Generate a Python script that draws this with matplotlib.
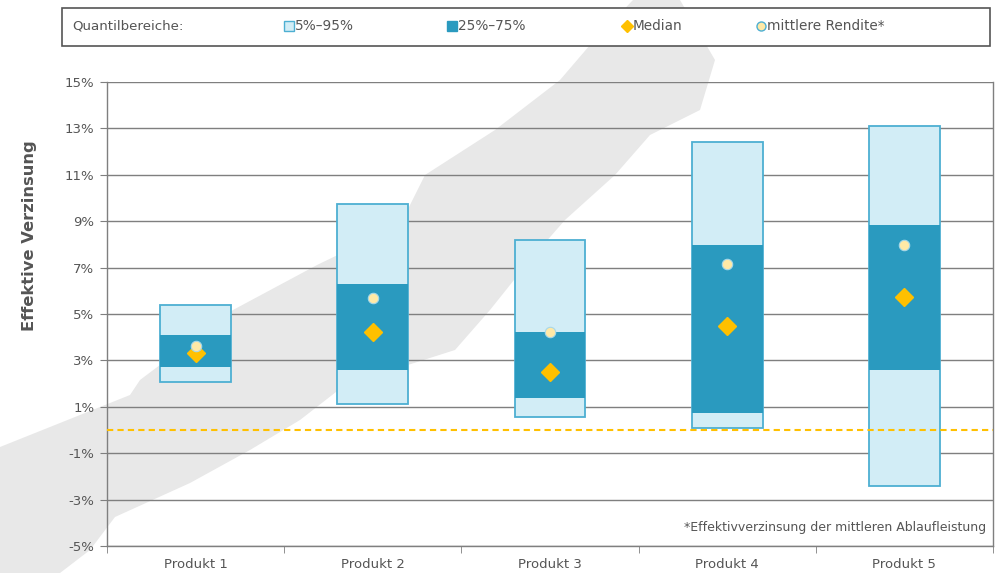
import matplotlib
matplotlib.use("Agg")
import matplotlib.pyplot as plt
from matplotlib.patches import Polygon, Rectangle
from matplotlib.lines import Line2D

products = ["Produkt 1", "Produkt 2", "Produkt 3", "Produkt 4", "Produkt 5"]
q05 = [2.07, 1.12, 0.56, 0.09, -2.41]
q25 = [2.72, 2.59, 1.38, 0.73, 2.59]
q75 = [4.10, 6.29, 4.22, 7.97, 8.84]
q95 = [5.39, 9.74, 8.19, 12.41, 13.10]
median = [3.32, 4.22, 2.50, 4.48, 5.73]
mean = [3.62, 5.69, 4.22, 7.16, 7.97]
yticks = [-5, -3, -1, 1, 3, 5, 7, 9, 11, 13, 15]
reference_line = 0.0

light = "#D2EDF6"
light_edge = "#4DAFD2"
dark = "#2A9ABF"
gold = "#FFC000"
mean_face = "#FFE9A6"
txt = "#555555"
grid_c = "#7F7F7F"

W, H = 1000, 573
fig = plt.figure(figsize=(W / 100, H / 100), dpi=100)
fig.patch.set_facecolor("white")

# decorative watermark swath (figure pixel coords, y from top)
wm = [(0, 447), (60, 423), (130, 395), (140, 380), (233, 310), (317, 265),
      (400, 225), (425, 175), (495, 130), (560, 80), (590, 45), (633, 0),
      (680, 0), (715, 60), (700, 110), (650, 135), (615, 175), (565, 220),
      (530, 260), (490, 310), (455, 350), (345, 385), (300, 420), (250, 450),
      (190, 483), (115, 517), (90, 550), (60, 573), (0, 573)]
fig.patches.append(Polygon([(x / W, 1 - y / H) for x, y in wm], closed=True,
                           transform=fig.transFigure, facecolor="#E8E8E8",
                           edgecolor="none", zorder=0))

ax = fig.add_axes([107 / W, 1 - 546 / H, (993 - 107) / W, (546 - 82) / H])
ax.set_facecolor("none")
ax.set_zorder(1)

xs = list(range(len(products)))
ax.bar(xs, [t - b for t, b in zip(q95, q05)], bottom=q05, width=0.4,
       color=light, edgecolor=light_edge, linewidth=1.3, zorder=3)
ax.bar(xs, [t - b for t, b in zip(q75, q25)], bottom=q25, width=0.4,
       color=dark, edgecolor="none", linewidth=0, zorder=4)
ax.plot(xs, median, linestyle="none", marker="D", markersize=9,
        color=gold, markeredgecolor=gold, zorder=6)
ax.plot(xs, mean, linestyle="none", marker="o", markersize=7.5,
        markerfacecolor=mean_face, markeredgecolor="#A8D8E8",
        markeredgewidth=0.8, zorder=7)
ax.axhline(reference_line, color=gold, linestyle=(0, (3, 2)), linewidth=1.5,
           zorder=5)

ax.set_xlim(-0.5, len(products) - 0.5)
ax.set_ylim(-5, 15)
ax.set_yticks(yticks)
ax.set_yticklabels([f"{v}%" for v in yticks], color=txt, fontsize=9.5)
for v in yticks:
    ax.axhline(v, color=grid_c, linewidth=1, zorder=2)

ax.set_xticks(xs)
ax.set_xticklabels(products, color=txt, fontsize=9.5)
ax.set_xticks([i - 0.5 for i in range(len(products) + 1)], minor=True)
ax.tick_params(axis="x", which="major", length=0, pad=9)
ax.tick_params(axis="x", which="minor", length=5, color=grid_c, direction="out")
ax.tick_params(axis="y", length=5, color=grid_c, direction="out", pad=4)

for s in ["left", "right", "bottom"]:
    ax.spines[s].set_color(grid_c)
    ax.spines[s].set_linewidth(1)
ax.spines["top"].set_visible(False)

fig.text(30 / W, 1 - 236 / H, "Effektive Verzinsung", rotation=90,
         ha="center", va="center", fontsize=11.8, fontweight="bold", color=txt)

ax.text(0.992, 0.04, "*Effektivverzinsung der mittleren Ablaufleistung",
        transform=ax.transAxes, ha="right", va="center", fontsize=9, color=txt)

# legend box
fig.patches.append(Rectangle((62 / W, 1 - 46 / H), (990 - 62) / W, 38 / H,
                             transform=fig.transFigure, facecolor="white",
                             edgecolor="#555555", linewidth=1.2, zorder=2))
ly = 1 - 26 / H
fig.text(72 / W, ly, "Quantilbereiche:", ha="left", va="center", fontsize=9.6,
         color=txt, zorder=3)
items = [
    (289, "s", light, light_edge, 7, "5%–95%"),
    (452, "s", dark, dark, 7, "25%–75%"),
    (627, "D", gold, gold, 6, "Median"),
    (761, "o", mean_face, "#4DAFD2", 6.5, "mittlere Rendite*"),
]
for x, m, fc, ec, ms, label in items:
    fig.add_artist(Line2D([x / W], [ly], marker=m, markersize=ms,
                          markerfacecolor=fc, markeredgecolor=ec,
                          markeredgewidth=1, linestyle="none",
                          transform=fig.transFigure, zorder=3))
    fig.text((x + 6) / W, ly, label, ha="left", va="center", fontsize=9.8,
             color=txt, zorder=3)

fig.savefig("out.png", dpi=100)
